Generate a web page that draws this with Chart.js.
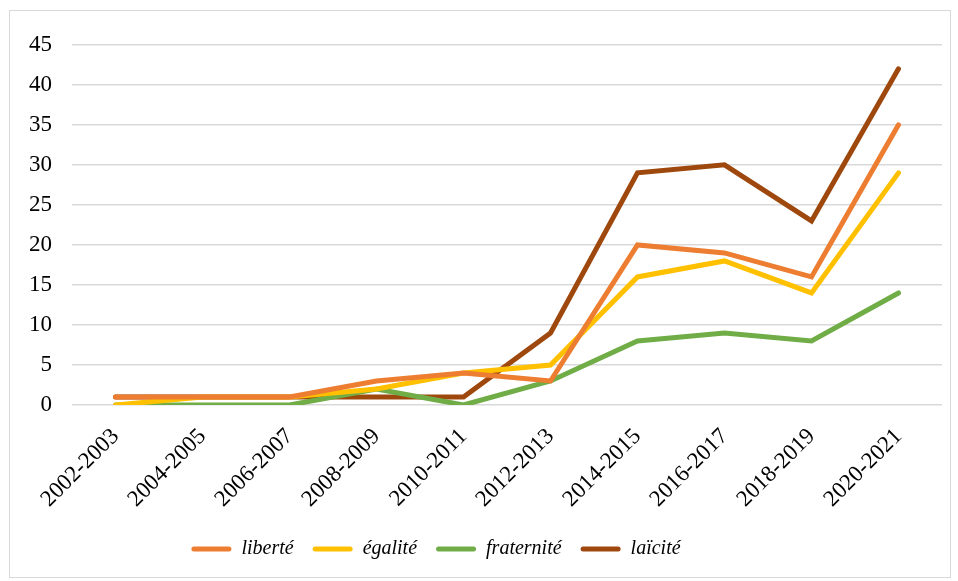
<!DOCTYPE html>
<html>
<head>
<meta charset="utf-8">
<script src="https://cdn.jsdelivr.net/npm/chart.js@4.4.1/dist/chart.umd.min.js"></script>
<style>
    html, body { margin: 0; padding: 0; background: #ffffff; }
    #frame {
        position: absolute;
        left: 9px;
        top: 10px;
        width: 940px;
        height: 566px;
        border: 1px solid #d9d9d9;
    }
</style>
</head>
<body>
<div id="frame"><canvas id="chart"></canvas></div>
<script>
// période scolaire
const periods = ['2002-2003', '2004-2005', '2006-2007', '2008-2009', '2010-2011',
                 '2012-2013', '2014-2015', '2016-2017', '2018-2019', '2020-2021'];

// occurrences par mot
const liberte    = [1, 1, 1, 3, 4, 3, 20, 19, 16, 35];
const egalite    = [0, 1, 1, 2, 4, 5, 16, 18, 14, 29];
const fraternite = [0, 0, 0, 2, 0, 3, 8, 9, 8, 14];
const laicite    = [1, 1, 1, 1, 1, 9, 29, 30, 23, 42];

const yTicks = [0, 5, 10, 15, 20, 25, 30, 35, 40, 45];

const serif = "'Liberation Serif', 'Times New Roman', serif";

function serie(label, data, color) {
    return {
        label: label,
        data: data,
        borderColor: color,
        backgroundColor: color,
        borderWidth: 5,
        pointRadius: 0,
        borderCapStyle: 'round',
        borderJoinStyle: 'miter',
        tension: 0
    };
}

// la légende n'est pas centrée sur le cadre dans l'original
const legendShift = {
    id: 'legendShift',
    afterLayout(chart) {
        if (chart.legend) {
            chart.legend.left -= 40;
            chart.legend.right -= 40;
        }
    }
};

const ctx = document.getElementById('chart').getContext('2d');
new Chart(ctx, {
    type: 'line',
    data: {
        labels: periods,
        datasets: [
            serie('liberté', liberte, '#ED7D31'),
            serie('égalité', egalite, '#FFC000'),
            serie('fraternité', fraternite, '#70AD47'),
            serie('laïcité', laicite, '#9E480E')
        ]
    },
    plugins: [legendShift],
    options: {
        responsive: true,
        maintainAspectRatio: false,
        animation: false,
        layout: {
            padding: { top: 29, left: 0, right: 8, bottom: 8 }
        },
        scales: {
            x: {
                offset: true,
                grid: { display: false },
                border: { display: false },
                ticks: {
                    color: '#000000',
                    font: { family: serif, size: 23 },
                    minRotation: 45,
                    maxRotation: 45,
                    autoSkip: false,
                    padding: 10
                },
                afterFit: (scale) => {
                    scale.paddingLeft = 0;
                    scale.paddingRight = 0;
                    scale.height = 115;
                }
            },
            y: {
                min: 0,
                max: 45,
                afterBuildTicks: (axis) => {
                    axis.ticks = yTicks.map(v => ({ value: v }));
                },
                afterFit: (scale) => {
                    scale.width = 62;
                },
                grid: {
                    color: '#d9d9d9',
                    lineWidth: 1.5,
                    drawTicks: false
                },
                border: { display: false },
                ticks: {
                    color: '#000000',
                    font: { family: serif, size: 23 },
                    padding: 20
                }
            }
        },
        plugins: {
            legend: {
                position: 'bottom',
                labels: {
                    color: '#000000',
                    font: { family: serif, size: 20, style: 'italic' },
                    boxWidth: 40,
                    boxHeight: 5,
                    useBorderRadius: true,
                    borderRadius: 2.5,
                    padding: 19,
                    generateLabels: (chart) => {
                        const items = Chart.defaults.plugins.legend.labels.generateLabels(chart);
                        items.forEach(it => { it.lineWidth = 0; });
                        return items;
                    }
                }
            },
            tooltip: { enabled: false }
        }
    }
});
</script>
</body>
</html>
